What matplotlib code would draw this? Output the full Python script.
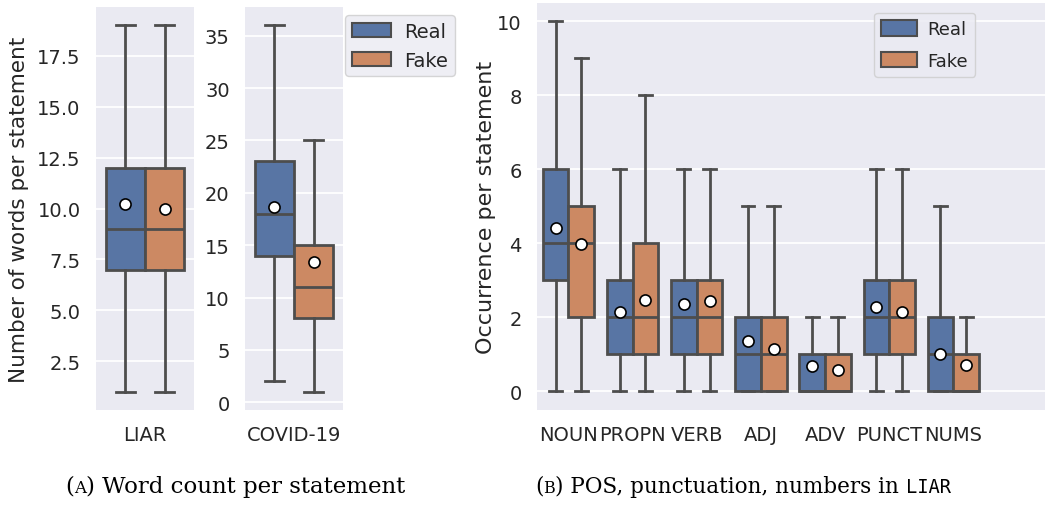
import matplotlib
matplotlib.use("Agg")
import matplotlib.pyplot as plt
from matplotlib.patches import Patch
from matplotlib.offsetbox import TextArea, HPacker, AnnotationBbox

BG = "#eaeaf2"
LINE = "#4d4d4d"
REAL_C = "#5875a4"
FAKE_C = "#cc8963"
FS = 14

# (A) words per statement, one entry per dataset
wc_datasets = ["LIAR", "COVID-19"]
wc_real_q1 = [7, 14]
wc_real_med = [9, 18]
wc_real_q3 = [12, 23]
wc_real_lo = [1, 2]
wc_real_hi = [19, 36]
wc_real_mean = [10.2, 18.6]
wc_fake_q1 = [7, 8]
wc_fake_med = [9, 11]
wc_fake_q3 = [12, 15]
wc_fake_lo = [1, 1]
wc_fake_hi = [19, 25]
wc_fake_mean = [10.0, 13.4]

# (B) POS / punctuation / numbers in LIAR
pos_cats = ["NOUN", "PROPN", "VERB", "ADJ", "ADV", "PUNCT", "NUMS"]
pos_real_q1 = [3, 1, 1, 0, 0, 1, 0]
pos_real_med = [4, 2, 2, 1, 0, 2, 1]
pos_real_q3 = [6, 3, 3, 2, 1, 3, 2]
pos_real_lo = [0, 0, 0, 0, 0, 0, 0]
pos_real_hi = [10, 6, 6, 5, 2, 6, 5]
pos_real_mean = [4.4, 2.14, 2.36, 1.37, 0.67, 2.28, 1.02]
pos_fake_q1 = [2, 1, 1, 0, 0, 1, 0]
pos_fake_med = [4, 2, 2, 1, 0, 2, 0]
pos_fake_q3 = [5, 4, 3, 2, 1, 3, 1]
pos_fake_lo = [0, 0, 0, 0, 0, 0, 0]
pos_fake_hi = [9, 8, 6, 5, 2, 6, 2]
pos_fake_mean = [3.98, 2.46, 2.44, 1.13, 0.58, 2.14, 0.71]

plt.rcParams.update({
    "font.family": "DejaVu Sans", "font.size": FS,
    "axes.facecolor": BG, "axes.grid": True, "grid.color": "white",
    "grid.linewidth": 1.3, "axes.axisbelow": True,
    "xtick.color": "#262626", "ytick.color": "#262626",
    "axes.labelcolor": "#262626", "text.color": "#262626",
})


def draw_boxes(ax, xs, q1, med, q3, lo, hi, mean, offset, color):
    stats = [dict(q1=a, med=b, q3=c, whislo=d, whishi=e, mean=f, fliers=[])
             for a, b, c, d, e, f in zip(q1, med, q3, lo, hi, mean)]
    pos = [x + offset for x in xs]
    ax.bxp(stats, positions=pos, widths=0.4, patch_artist=True,
           showmeans=True, showfliers=False, manage_ticks=False,
           boxprops=dict(facecolor=color, edgecolor=LINE, linewidth=2),
           medianprops=dict(color=LINE, linewidth=2),
           whiskerprops=dict(color=LINE, linewidth=2),
           capprops=dict(color=LINE, linewidth=2),
           meanprops=dict(marker="o", markerfacecolor="white",
                          markeredgecolor="black", markersize=8,
                          markeredgewidth=1.2))


def style(ax):
    for s in ax.spines.values():
        s.set_visible(False)
    ax.tick_params(length=0, pad=11, labelsize=FS)
    ax.grid(axis="x", visible=False)


def add_legend(ax, size, **kw):
    handles = [Patch(facecolor=REAL_C, edgecolor=LINE, linewidth=1.5, label="Real"),
               Patch(facecolor=FAKE_C, edgecolor=LINE, linewidth=1.5, label="Fake")]
    leg = ax.legend(handles=handles, fontsize=size, facecolor=BG,
                    edgecolor="#cccccc", framealpha=0.8, **kw)
    return leg


fig = plt.figure(figsize=(10.46, 5.06), dpi=100)
ax1 = fig.add_axes([0.0918, 0.1877, 0.0937, 0.7964])
ax2 = fig.add_axes([0.2342, 0.1877, 0.0937, 0.7964])
ax3 = fig.add_axes([0.5134, 0.1883, 0.4857, 0.8040])

# word counts: one panel per dataset
stat_sets = [
    (wc_real_q1, wc_real_med, wc_real_q3, wc_real_lo, wc_real_hi, wc_real_mean),
    (wc_fake_q1, wc_fake_med, wc_fake_q3, wc_fake_lo, wc_fake_hi, wc_fake_mean),
]
for i, ax in enumerate([ax1, ax2]):
    for (q1, med, q3, lo, hi, mean), off, col in zip(stat_sets, [-0.2, 0.2], [REAL_C, FAKE_C]):
        draw_boxes(ax, [0], [q1[i]], [med[i]], [q3[i]], [lo[i]], [hi[i]],
                   [mean[i]], off, col)
    lo_all = min(wc_real_lo[i], wc_fake_lo[i])
    hi_all = max(wc_real_hi[i], wc_fake_hi[i])
    span = hi_all - lo_all
    ax.set_ylim(lo_all - 0.05 * span, hi_all + 0.05 * span)
    ax.set_xlim(-0.5, 0.5)
    ax.set_xticks([0], [wc_datasets[i]])
    style(ax)

ax1.set_yticks([2.5, 5.0, 7.5, 10.0, 12.5, 15.0, 17.5])
ax2.set_yticks([0, 5, 10, 15, 20, 25, 30, 35])
ax1.set_ylabel("Number of words per statement", fontsize=15.5)
ax1.yaxis.set_label_coords(-0.68, 0.5)
add_legend(ax2, FS, loc="upper left", bbox_to_anchor=(1.0, 0.985),
           borderaxespad=0.1, borderpad=0.35, handletextpad=0.7)

xs = list(range(len(pos_cats)))
draw_boxes(ax3, xs, pos_real_q1, pos_real_med, pos_real_q3, pos_real_lo,
           pos_real_hi, pos_real_mean, -0.2, REAL_C)
draw_boxes(ax3, xs, pos_fake_q1, pos_fake_med, pos_fake_q3, pos_fake_lo,
           pos_fake_hi, pos_fake_mean, 0.2, FAKE_C)
ax3.set_xlim(-0.49, 7.43)
ax3.set_ylim(-0.5, 10.5)
ax3.set_yticks([0, 2, 4, 6, 8, 10])
ax3.set_xticks(xs, pos_cats)
ax3.set_ylabel("Occurrence per statement", fontsize=16)
ax3.yaxis.set_label_coords(-0.08, 0.5)
style(ax3)
add_legend(ax3, 13, loc="upper right", bbox_to_anchor=(0.866, 0.98),
           borderaxespad=0.1, borderpad=0.4, handletextpad=0.55,
           labelspacing=0.75, handleheight=0.95)


def caption(x, parts):
    boxes = [TextArea(t, textprops=dict(family=fam, size=sz, color="black"))
             for t, fam, sz in parts]
    pack = HPacker(children=boxes, align="baseline", pad=0, sep=0)
    ab = AnnotationBbox(pack, (x, 0.016), xycoords="figure fraction",
                        frameon=False, box_alignment=(0.5, 0.0))
    fig.add_artist(ab)


SERIF = "DejaVu Serif"
caption(235 / 1046, [("(", SERIF, 16.5), ("A", SERIF, 12),
                     (") Word count per statement", SERIF, 16.5)])
caption(743 / 1046, [("(", SERIF, 15.5), ("B", SERIF, 11.5),
                     (") POS, punctuation, numbers in ", SERIF, 15.5),
                     ("LIAR", "DejaVu Sans Mono", 13.5)])

fig.savefig("out.png", dpi=100)
